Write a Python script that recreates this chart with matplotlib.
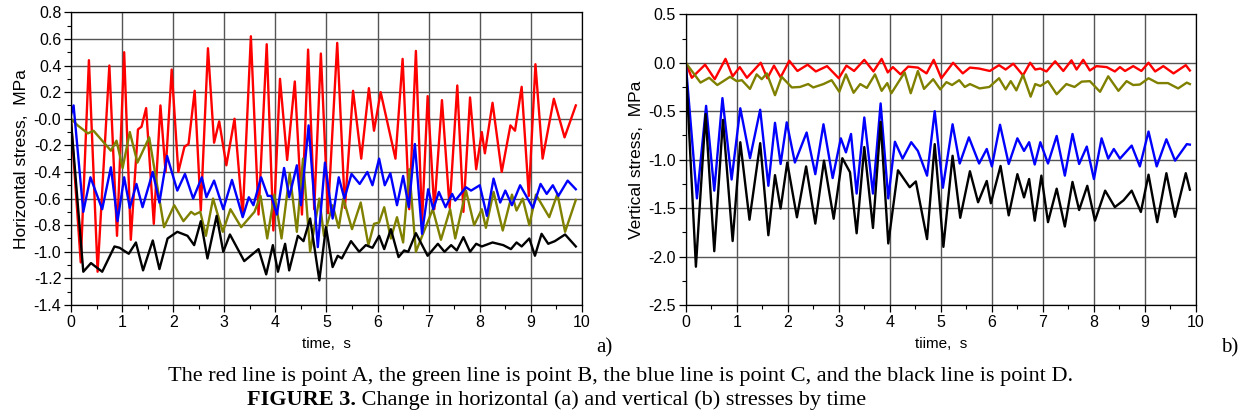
import matplotlib
matplotlib.use("Agg")
import matplotlib.pyplot as plt
from matplotlib.ticker import MultipleLocator, FixedLocator

# horizontal stress (a), points as (time s, stress MPa)
h_red = [(0, -0.02), (0.19, -1.08), (0.35, 0.44), (0.52, -1.15), (0.75, 0.40), (0.90, -0.88),
         (1.04, 0.50), (1.17, -0.91), (1.31, -0.08), (1.38, -0.06), (1.47, 0.08), (1.62, -0.79),
         (1.75, 0.10), (1.85, -0.40), (1.97, 0.37), (2.10, -0.40), (2.22, -0.21), (2.30, -0.19),
         (2.42, 0.21), (2.54, -0.69), (2.68, 0.53), (2.80, -0.18), (2.90, -0.02), (3.04, -0.35),
         (3.20, 0.0), (3.36, -0.73), (3.52, 0.62), (3.67, -0.72), (3.83, 0.56), (3.96, -0.84),
         (4.09, 0.30), (4.23, -0.31), (4.38, 0.28), (4.52, -0.72), (4.64, 0.52), (4.76, -0.68),
         (4.89, 0.49), (5.03, -0.71), (5.21, 0.57), (5.36, -0.67), (5.52, 0.21), (5.68, -0.30),
         (5.83, 0.23), (5.93, -0.09), (6.06, 0.20), (6.35, -0.30), (6.49, 0.45), (6.62, -0.68),
         (6.75, 0.51), (6.87, -0.78), (6.98, 0.17), (7.11, -0.68), (7.26, 0.14), (7.41, -0.67),
         (7.56, 0.25), (7.68, -0.70), (7.81, 0.16), (7.93, -0.38), (8.04, -0.10), (8.10, -0.26),
         (8.25, 0.12), (8.43, -0.40), (8.60, -0.05), (8.69, -0.09), (8.82, 0.24), (8.96, -0.58),
         (9.09, 0.41), (9.23, -0.30), (9.45, 0.15), (9.66, -0.14), (9.88, 0.10)]
h_green = [(0, 0.0), (0.13, -0.05), (0.33, -0.11), (0.44, -0.09), (0.78, -0.24), (0.89, -0.165),
           (1.01, -0.37), (1.15, -0.10), (1.30, -0.33), (1.53, -0.14), (1.82, -0.815), (2.02, -0.65),
           (2.20, -0.77), (2.35, -0.70), (2.42, -0.72), (2.53, -0.70), (2.64, -0.88), (2.78, -0.60),
           (2.97, -0.85), (3.12, -0.68), (3.33, -0.815), (3.59, -0.70), (3.71, -0.58), (3.84, -0.90),
           (3.98, -0.57), (4.12, -0.90), (4.28, -0.41), (4.42, -0.85), (4.54, -0.30), (4.68, -1.00),
           (4.86, -0.60), (4.95, -0.88), (5.12, -0.65), (5.24, -0.82), (5.33, -0.60), (5.50, -0.83),
           (5.67, -0.63), (5.82, -0.95), (5.93, -0.79), (6.03, -0.78), (6.13, -0.665), (6.26, -0.90),
           (6.38, -0.74), (6.50, -0.93), (6.62, -0.38), (6.75, -1.00), (7.08, -0.68), (7.24, -0.91),
           (7.42, -0.68), (7.52, -0.90), (7.73, -0.54), (7.89, -0.80), (8.04, -0.68), (8.12, -0.82),
           (8.27, -0.55), (8.45, -0.84), (8.63, -0.57), (8.72, -0.69), (8.84, -0.60), (8.97, -0.80),
           (9.10, -0.57), (9.36, -0.74), (9.52, -0.565), (9.67, -0.85), (9.88, -0.61)]
h_blue = [(0, 0.03), (0.05, 0.10), (0.24, -0.70), (0.38, -0.44), (0.61, -0.68), (0.78, -0.365),
          (0.91, -0.77), (1.04, -0.44), (1.15, -0.67), (1.28, -0.49), (1.40, -0.665), (1.60, -0.40),
          (1.73, -0.63), (1.88, -0.28), (2.08, -0.54), (2.23, -0.415), (2.39, -0.60), (2.56, -0.44),
          (2.65, -0.59), (2.80, -0.465), (2.98, -0.68), (3.15, -0.46), (3.36, -0.74), (3.48, -0.59),
          (3.57, -0.65), (3.72, -0.44), (3.85, -0.58), (3.92, -0.58), (4.03, -0.72), (4.17, -0.37),
          (4.27, -0.59), (4.42, -0.35), (4.50, -0.65), (4.65, -0.05), (4.83, -0.965), (4.97, -0.33),
          (5.12, -0.75), (5.24, -0.44), (5.35, -0.60), (5.49, -0.415), (5.65, -0.49), (5.80, -0.40),
          (5.90, -0.50), (6.03, -0.30), (6.14, -0.50), (6.25, -0.41), (6.38, -0.65), (6.50, -0.43),
          (6.61, -0.665), (6.73, -0.19), (6.87, -0.865), (6.99, -0.53), (7.09, -0.68), (7.20, -0.55),
          (7.33, -0.665), (7.46, -0.565), (7.52, -0.615), (7.73, -0.515), (7.83, -0.54), (8.00, -0.50),
          (8.14, -0.73), (8.27, -0.45), (8.40, -0.63), (8.50, -0.54), (8.63, -0.65), (8.79, -0.50),
          (9.04, -0.67), (9.19, -0.49), (9.31, -0.565), (9.43, -0.50), (9.54, -0.58), (9.72, -0.465),
          (9.88, -0.53)]
h_black = [(0, -0.02), (0.24, -1.15), (0.39, -1.085), (0.61, -1.15), (0.85, -0.96), (0.95, -0.97),
           (1.13, -1.015), (1.27, -0.93), (1.41, -1.14), (1.60, -0.915), (1.73, -1.13), (1.89, -0.90),
           (2.08, -0.85), (2.28, -0.88), (2.41, -0.95), (2.54, -0.77), (2.67, -1.05), (2.85, -0.73),
           (2.98, -1.00), (3.11, -0.87), (3.39, -1.07), (3.67, -0.98), (3.82, -1.17), (3.95, -0.95),
           (4.05, -1.15), (4.19, -0.94), (4.27, -1.14), (4.44, -0.88), (4.55, -0.92), (4.68, -0.75),
           (4.86, -1.215), (4.99, -0.815), (5.12, -1.115), (5.22, -1.03), (5.30, -1.05), (5.48, -0.92),
           (5.64, -1.00), (5.77, -0.95), (5.90, -0.97), (6.03, -0.88), (6.13, -0.98), (6.26, -0.83),
           (6.41, -1.04), (6.52, -0.99), (6.60, -1.00), (6.75, -0.86), (6.98, -1.03), (7.18, -0.94),
           (7.31, -1.00), (7.44, -0.95), (7.55, -0.99), (7.68, -0.89), (7.81, -1.00), (7.93, -0.94),
           (8.04, -0.96), (8.25, -0.93), (8.46, -0.95), (8.61, -0.98), (8.72, -0.93), (8.82, -0.96),
           (8.97, -0.90), (9.08, -1.03), (9.21, -0.865), (9.34, -0.94), (9.47, -0.92), (9.67, -0.87),
           (9.88, -0.96)]

# vertical stress (b)
v_red = [(0, 0.0), (0.12, -0.155), (0.38, -0.02), (0.57, -0.17), (0.78, 0.04), (0.92, -0.14),
         (1.06, -0.045), (1.20, -0.155), (1.47, 0.0), (1.60, -0.16), (1.73, -0.03), (1.86, -0.15),
         (2.03, 0.02), (2.19, -0.085), (2.39, -0.02), (2.55, -0.09), (2.77, -0.035), (3.00, -0.16),
         (3.15, -0.03), (3.30, -0.085), (3.50, 0.03), (3.68, -0.09), (3.84, 0.04), (3.96, -0.10),
         (4.06, -0.045), (4.21, -0.12), (4.36, -0.04), (4.55, -0.05), (4.72, -0.11), (4.86, 0.03),
         (5.01, -0.16), (5.24, 0.0), (5.43, -0.11), (5.57, -0.05), (5.75, -0.06), (5.96, -0.085),
         (6.14, -0.025), (6.27, -0.07), (6.42, -0.01), (6.61, -0.13), (6.75, 0.0), (6.85, -0.07),
         (6.95, -0.06), (7.07, -0.09), (7.24, 0.015), (7.40, -0.085), (7.56, 0.025), (7.66, -0.07),
         (7.79, 0.03), (7.92, -0.08), (8.05, -0.035), (8.25, -0.045), (8.41, -0.09), (8.51, -0.045),
         (8.61, -0.085), (8.77, -0.035), (8.93, -0.085), (9.07, 0.0), (9.20, -0.09), (9.36, -0.035),
         (9.56, -0.11), (9.80, -0.025), (9.88, -0.08)]
v_green = [(0, 0.0), (0.29, -0.205), (0.46, -0.155), (0.62, -0.23), (0.87, -0.145), (1.00, -0.19),
           (1.10, -0.18), (1.26, -0.27), (1.39, -0.12), (1.49, -0.17), (1.59, -0.11), (1.75, -0.335),
           (1.88, -0.145), (2.08, -0.255), (2.24, -0.25), (2.40, -0.22), (2.50, -0.255), (2.70, -0.22),
           (2.86, -0.18), (3.01, -0.30), (3.14, -0.12), (3.29, -0.31), (3.42, -0.22), (3.55, -0.26),
           (3.71, -0.12), (3.84, -0.29), (3.95, -0.21), (4.03, -0.315), (4.29, -0.10), (4.41, -0.315),
           (4.55, -0.085), (4.67, -0.27), (4.85, -0.17), (4.99, -0.275), (5.11, -0.20), (5.22, -0.23),
           (5.36, -0.18), (5.47, -0.25), (5.57, -0.22), (5.76, -0.265), (5.95, -0.25), (6.14, -0.16),
           (6.27, -0.275), (6.37, -0.19), (6.48, -0.285), (6.61, -0.125), (6.76, -0.35), (6.85, -0.22),
           (6.95, -0.24), (7.10, -0.19), (7.27, -0.325), (7.46, -0.22), (7.62, -0.25), (7.76, -0.195),
           (7.92, -0.19), (8.12, -0.30), (8.28, -0.14), (8.48, -0.29), (8.64, -0.19), (8.77, -0.23),
           (8.90, -0.225), (9.07, -0.16), (9.25, -0.21), (9.45, -0.21), (9.65, -0.265), (9.82, -0.205),
           (9.88, -0.22)]
v_blue = [(0, 0.0), (0.22, -1.40), (0.40, -0.445), (0.56, -1.32), (0.72, -0.365), (0.90, -1.205),
          (1.07, -0.47), (1.26, -0.985), (1.46, -0.485), (1.62, -1.27), (1.75, -0.62), (1.86, -1.045),
          (1.98, -0.615), (2.14, -1.03), (2.37, -0.72), (2.54, -1.15), (2.70, -0.635), (2.88, -1.19),
          (3.04, -0.78), (3.14, -0.925), (3.24, -0.735), (3.35, -1.35), (3.50, -0.565), (3.67, -1.35),
          (3.82, -0.42), (3.97, -1.40), (4.10, -0.815), (4.25, -0.99), (4.42, -0.82), (4.55, -0.91),
          (4.73, -1.165), (4.88, -0.50), (5.04, -1.29), (5.23, -0.635), (5.37, -1.04), (5.55, -0.77),
          (5.75, -1.04), (5.90, -0.89), (6.00, -1.07), (6.16, -0.64), (6.33, -1.045), (6.50, -0.78),
          (6.63, -0.91), (6.73, -0.82), (6.84, -1.05), (6.95, -0.82), (7.10, -1.04), (7.27, -0.755),
          (7.43, -1.165), (7.58, -0.735), (7.71, -1.045), (7.86, -0.865), (8.00, -1.20), (8.15, -0.78),
          (8.28, -0.99), (8.39, -0.89), (8.51, -0.99), (8.74, -0.855), (8.90, -1.07), (9.07, -0.71),
          (9.23, -1.07), (9.42, -0.79), (9.59, -1.01), (9.82, -0.84), (9.88, -0.845)]
v_black = [(0, 0.0), (0.20, -2.105), (0.39, -0.53), (0.56, -1.945), (0.73, -0.59), (0.92, -1.84),
           (1.07, -0.82), (1.25, -1.62), (1.46, -0.83), (1.62, -1.78), (1.75, -1.16), (1.86, -1.505),
           (1.99, -1.03), (2.18, -1.595), (2.36, -1.07), (2.54, -1.66), (2.71, -1.01), (2.90, -1.61),
           (3.07, -0.985), (3.22, -1.13), (3.35, -1.76), (3.50, -0.87), (3.67, -1.705), (3.82, -0.61),
           (3.97, -1.865), (4.16, -1.11), (4.39, -1.285), (4.51, -1.225), (4.73, -1.82), (4.88, -0.84),
           (5.05, -1.90), (5.23, -0.96), (5.38, -1.60), (5.57, -1.12), (5.73, -1.44), (5.90, -1.22),
           (5.98, -1.45), (6.17, -1.065), (6.33, -1.575), (6.50, -1.15), (6.63, -1.39), (6.73, -1.20),
           (6.84, -1.63), (6.97, -1.165), (7.10, -1.645), (7.27, -1.30), (7.43, -1.69), (7.58, -1.23),
           (7.71, -1.52), (7.87, -1.27), (8.02, -1.63), (8.22, -1.32), (8.41, -1.49), (8.58, -1.42),
           (8.74, -1.32), (8.92, -1.54), (9.07, -1.155), (9.24, -1.645), (9.42, -1.14), (9.59, -1.59),
           (9.80, -1.14), (9.88, -1.31)]

h_ticks = [0.8, 0.6, 0.4, 0.2, 0.0, -0.2, -0.4, -0.6, -0.8, -1.0, -1.2, -1.4]
h_ticklabels = ['0.8', '0.6', '0.4', '0.2', '-0.0', '-0.2', '-0.4', '-0.6', '-0.8', '-1.0', '-1.2', '-1.4']
v_ticks = [0.5, 0.0, -0.5, -1.0, -1.5, -2.0, -2.5]
v_ticklabels = ['0.5', '0.0', '-0.5', '-1.0', '-1.5', '-2.0', '-2.5']

colors = ['#ff0000', '#808000', '#0000ff', '#000000']

plt.rcParams['font.family'] = ['Liberation Sans', 'DejaVu Sans']

fig = plt.figure(figsize=(12.44, 4.19), dpi=100)
ax1 = fig.add_axes([0.0571, 0.2721, 0.4107, 0.6985])
ax2 = fig.add_axes([0.5512, 0.2721, 0.4102, 0.6938])


def setup(ax, yticks, ylabels, ymin, ymax, yminor, ylab, xlab):
    ax.set_xlim(0, 10)
    ax.set_ylim(ymin, ymax)
    ax.xaxis.set_major_locator(MultipleLocator(1))
    ax.xaxis.set_minor_locator(MultipleLocator(0.5))
    ax.yaxis.set_major_locator(FixedLocator(yticks))
    ax.set_yticklabels(ylabels)
    ax.yaxis.set_minor_locator(MultipleLocator(yminor))
    ax.grid(True, which='major', color='#555555', lw=1.0)
    ax.tick_params(which='major', direction='out', length=5, width=0.9, labelsize=11.5, pad=2)
    ax.tick_params(which='minor', direction='out', length=3, width=0.8)
    for s in ax.spines.values():
        s.set_linewidth(0.9)
    ax.set_ylabel(ylab, fontsize=12.5, labelpad=3)
    ax.set_xlabel(xlab, fontsize=11, labelpad=5)


setup(ax1, h_ticks, h_ticklabels, -1.4, 0.8, 0.1, 'Horizontal stress,  MPa', 'time,  s')
setup(ax2, v_ticks, v_ticklabels, -2.5, 0.5, 0.25, 'Vertical stress,  MPa', 'tiime,  s')

for ser, c in zip([h_red, h_green, h_blue, h_black], colors):
    ax1.plot([p[0] for p in ser], [p[1] for p in ser], color=c, lw=1.7, solid_joinstyle='round')
for ser, c in zip([v_red, v_green, v_blue, v_black], colors):
    ax2.plot([p[0] for p in ser], [p[1] for p in ser], color=c, lw=1.7, solid_joinstyle='round')

serif = ['Liberation Serif', 'DejaVu Serif']
fig.text(596 / 1244, 1 - 348 / 419, 'a)', family=serif, fontsize=15, va='center', ha='left')
fig.text(1221 / 1244, 1 - 348 / 419, 'b)', family=serif, fontsize=15, va='center', ha='left')
fig.text(0.4985, 1 - 376 / 419, 'The red line is point A, the green line is point B, the blue line is point C, '
         'and the black line is point D.', family=serif, fontsize=16, ha='center', va='center')

# second caption line: bold label followed by plain text, centred as a whole
fig.canvas.draw()
r = fig.canvas.get_renderer()
y2 = 1 - 400 / 419
t1 = fig.text(0, y2, 'FIGURE 3.', family=serif, fontsize=16, weight='bold', va='center')
t2 = fig.text(0, y2, ' Change in horizontal (a) and vertical (b) stresses by time', family=serif,
              fontsize=16, va='center')
w1 = t1.get_window_extent(r).width / fig.bbox.width
w2 = t2.get_window_extent(r).width / fig.bbox.width
x0 = 0.447 - (w1 + w2) / 2
t1.set_x(x0)
t2.set_x(x0 + w1)

fig.savefig('out.png', dpi=100)
